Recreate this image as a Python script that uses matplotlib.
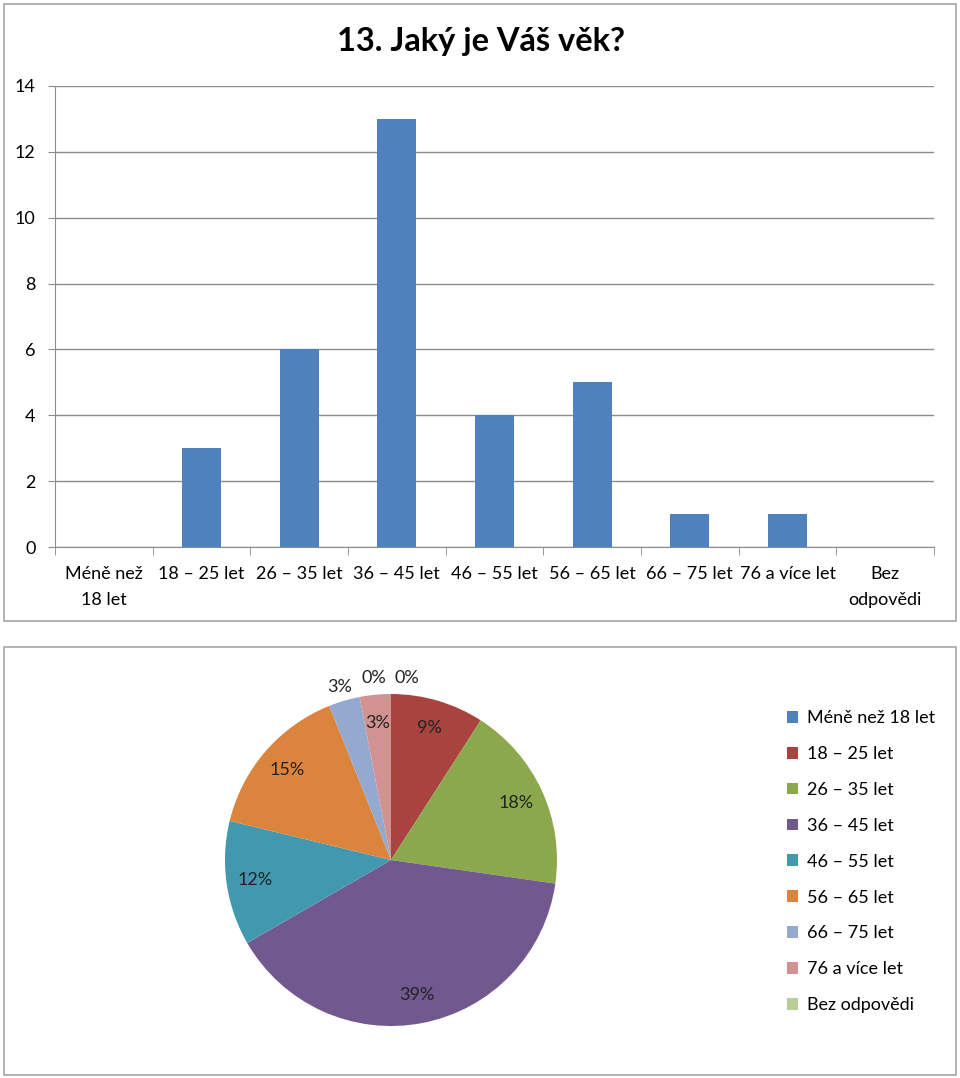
import matplotlib
matplotlib.use("Agg")
import matplotlib.pyplot as plt
from matplotlib.patches import Rectangle
import numpy as np

plt.rcParams['font.family'] = ['Lato', 'DejaVu Sans']

categories = ["Méně než 18 let", "18 – 25 let", "26 – 35 let", "36 – 45 let",
              "46 – 55 let", "56 – 65 let", "66 – 75 let", "76 a více let", "Bez odpovědi"]
tick_labels = ["Méně než\n18 let", "18 – 25 let", "26 – 35 let", "36 – 45 let",
               "46 – 55 let", "56 – 65 let", "66 – 75 let", "76 a více let", "Bez\nodpovědi"]
counts = [0, 3, 6, 13, 4, 5, 1, 1, 0]
title = "13. Jaký je Váš věk?"

bar_color = "#4F81BD"
pie_colors = ["#4F81BD", "#A8433F", "#8CA84C", "#71588F", "#4298AF",
              "#DB843D", "#93A9CF", "#D19392", "#B9CD96"]

W, H = 960, 1078
fig = plt.figure(figsize=(W / 100, H / 100), dpi=100)

def fx(x):
    return x / W

def fy(y):
    return 1 - y / H

# panel borders
for (x0, y0, x1, y1) in [(4, 4, 956, 621), (4, 647, 956, 1075)]:
    fig.patches.append(Rectangle((fx(x0), fy(y1)), fx(x1) - fx(x0), fy(y0) - fy(y1),
                                 transform=fig.transFigure, fill=False,
                                 edgecolor="#A6A6A6", linewidth=1.2))

# ---- Bar chart ----
ax = fig.add_axes([fx(55), fy(547), fx(934) - fx(55), fy(86) - fy(547)])
x = np.arange(len(categories))
ax.bar(x, counts, width=0.4, color=bar_color, zorder=3)
ax.set_xlim(-0.5, len(categories) - 0.5)
ax.set_ylim(0, 14)
ax.set_yticks(range(0, 15, 2))
ax.yaxis.grid(True, color="#8C8C8C", linewidth=1)
ax.set_axisbelow(True)
for s in ["top", "right"]:
    ax.spines[s].set_visible(False)
for s in ["left", "bottom"]:
    ax.spines[s].set_color("#8C8C8C")
ax.set_xticks(x)
ax.set_xticklabels(tick_labels, fontsize=13, linespacing=1.75)
ax.set_xticks(np.arange(-0.5, len(categories), 1), minor=True)
ax.tick_params(axis="x", which="major", length=0, pad=14)
ax.tick_params(axis="x", which="minor", length=6, color="#8C8C8C", direction="out")
ax.tick_params(axis="y", length=5, color="#8C8C8C", labelsize=13, pad=9)
for t in ax.get_xticklabels():
    t.set_verticalalignment("top")
fig.text(fx(481), fy(42), title, fontsize=23.5, fontweight="bold", ha="center", va="center")

# ---- Pie chart ----
R = 166
half = 1.2 * R
pax = fig.add_axes([fx(391 - half), fy(860 + half), 2 * half / W, 2 * half / H])
wedges, texts, autotexts = pax.pie(counts, colors=pie_colors, startangle=90, counterclock=False,
                                   autopct=lambda p: f"{p:.0f}%", pctdistance=0.83,
                                   textprops=dict(fontsize=13, color="#222222"))
pax.set_xlim(-1.2, 1.2)
pax.set_ylim(-1.2, 1.2)
pax.set_axis_off()

def place(t, ang, r):
    a = np.deg2rad(ang)
    t.set_position((r * np.cos(a), r * np.sin(a)))

# outside labels for small slices
place(autotexts[0], 85, 1.1)      # first 0%
place(autotexts[8], 95.5, 1.1)    # last 0%
place(autotexts[6], 106.5, 1.09)  # 66-75

leg = pax.legend(wedges, categories, loc="upper left", bbox_to_anchor=(fx(771), fy(694)),
                 bbox_transform=fig.transFigure, frameon=False, fontsize=13,
                 handlelength=0.62, handleheight=0.62, handletextpad=0.45, labelspacing=1.1)

fig.savefig("out.png", dpi=100)
